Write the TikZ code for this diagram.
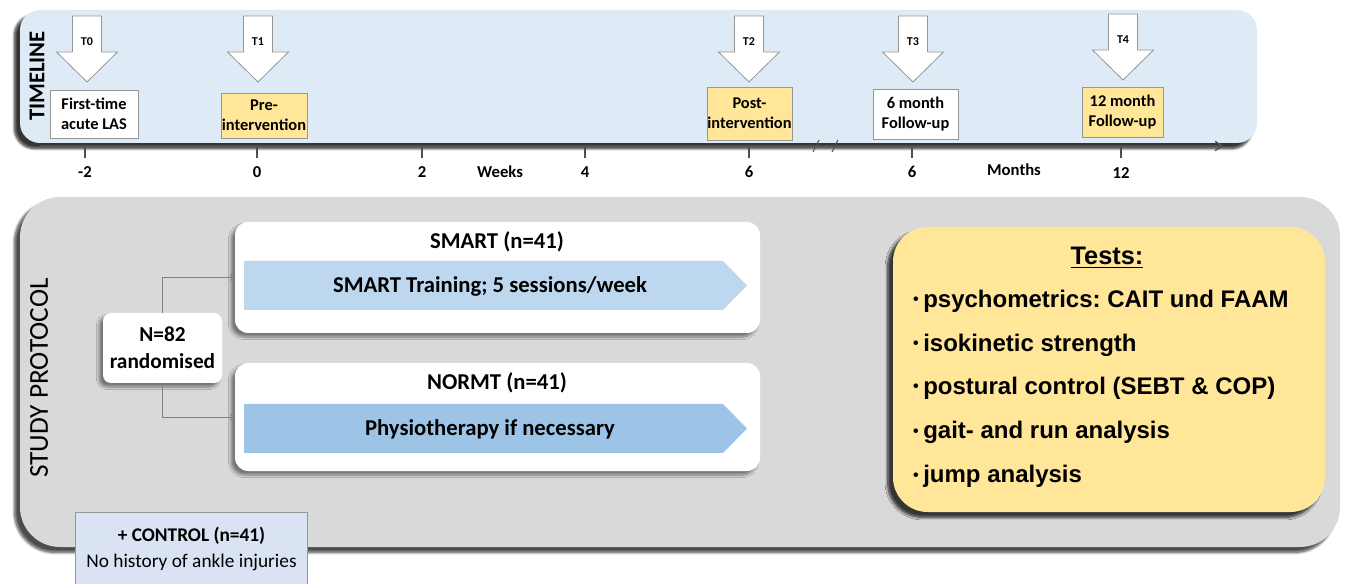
\documentclass[tikz,border=0pt]{standalone}
\usepackage{fontspec}
\setmainfont{Carlito}
\newfontfamily\arialfont{Liberation Sans}
\usetikzlibrary{shadows,shadows.blur,arrows.meta}
\frenchspacing
\definecolor{tlblue}{RGB}{222,234,246}
\definecolor{panelgray}{RGB}{217,217,217}
\definecolor{tyellow}{RGB}{255,230,153}
\definecolor{arrblueA}{RGB}{189,215,238}
\definecolor{arrblueB}{RGB}{157,195,230}
\definecolor{ctlblue}{RGB}{218,227,243}
\definecolor{edgegray}{RGB}{150,150,150}
\definecolor{axisgray}{RGB}{80,80,80}
\begin{document}
\begin{tikzpicture}[x=0.75pt,y=-0.75pt,
  softshadow/.style={blur shadow={shadow xshift=-3pt,shadow yshift=-3pt,shadow opacity=45,shadow blur steps=8}},
  panel/.style={inner sep=0pt,softshadow},
  tbox/.style={draw=edgegray,line width=0.6pt,align=center,inner sep=0pt,font=\bfseries\fontsize{12.3}{15}\selectfont},
  tarrow/.style={draw=edgegray,fill=white,line width=0.6pt,line join=miter},
  tlabel/.style={font=\bfseries\fontsize{9}{10}\selectfont,inner sep=0pt},
  axlabel/.style={font=\bfseries\fontsize{12.5}{14}\selectfont,inner sep=0pt},
  axisline/.style={draw=axisgray,line width=1pt},
  tick/.style={draw=axisgray,line width=0.8pt},
  grouppanel/.style={panel,fill=white,rounded corners=10pt},
  grouptitle/.style={font=\bfseries\fontsize{17}{19}\selectfont,inner sep=0pt},
  arrowtext/.style={font=\bfseries\fontsize{17}{19}\selectfont,inner sep=0pt},
  conn/.style={draw=gray,line width=0.6pt,-{To[length=3.5pt,width=5pt]}},
  testitem/.style={font=\arialfont\bfseries\fontsize{18}{20}\selectfont,inner sep=0pt,anchor=base west},
  testbullet/.style={font=\arialfont\bfseries\fontsize{12}{14}\selectfont,inner sep=0pt,anchor=base},
]
\useasboundingbox (0,0) rectangle (1346,584);

% ---------------- timeline panel ----------------
\node[panel,fill=tlblue,rounded corners=15pt,minimum width=927.75pt,minimum height=99.75pt,
  blur shadow={shadow xshift=-4pt,shadow yshift=-4pt,shadow opacity=55,shadow blur steps=8}] (tlpanel) at (638.5,76.5) {};
\node[rotate=90,font=\bfseries\fontsize{17}{18}\selectfont,inner sep=0pt] (tltitle) at (37,76) {TIMELINE};

% axis
\coordinate (axL) at (40,146);
\coordinate (axR) at (1223,146);
\draw[axisline,-{Straight Barb[length=5pt,width=7pt]}] (axL) -- (axR);
\foreach \x in {85,257,422,585,749,912,1121} \draw[tick] (\x,146) -- (\x,158);
\draw[tick] (813,152) -- (819,140);
\draw[tick] (832,152) -- (838,140);

\node[axlabel] (lm2) at (85,172) {-2};
\node[axlabel] (l0) at (257,172) {0};
\node[axlabel] (l2) at (422,172) {2};
\node[axlabel] (lweeks) at (500,172) {Weeks};
\node[axlabel] (l4) at (585,172) {4};
\node[axlabel] (l6) at (749,172) {6};
\node[axlabel] (l6m) at (912,172) {6};
\node[axlabel] (lmonths) at (1014,170) {Months};
\node[axlabel] (l12) at (1121,173) {12};

% block arrows
\foreach \cx/\ty/\lab/\nm in {87/16/T0/t0,258/16/T1/t1,749/16/T2/t2,913/16/T3/t3,1123/14/T4/t4}{
  \draw[tarrow] (\cx-14.5,\ty) -- (\cx+14.5,\ty) -- (\cx+14.5,\ty+36) -- (\cx+30.5,\ty+36)
     -- (\cx,\ty+66) -- (\cx-30.5,\ty+36) -- (\cx-14.5,\ty+36) -- cycle;
  \node[tlabel] (\nm) at (\cx,\ty+26) {\lab};
}

% timeline boxes
\node[tbox,fill=white,minimum width=66pt,minimum height=36pt] (b0) at (94,114) {First-time\\acute LAS};
\node[tbox,fill=tyellow,minimum width=64.5pt,minimum height=33.75pt] (b1) at (264,115.5) {Pre-\\intervention};
\node[tbox,fill=tyellow,minimum width=63.75pt,minimum height=39.75pt] (b2) at (749.5,113.5) {Post-\\intervention};
\node[tbox,fill=white,minimum width=63.75pt,minimum height=37.5pt] (b3) at (915.5,114) {6 month\\Follow-up};
\node[tbox,fill=tyellow,minimum width=60.75pt,minimum height=37.5pt] (b4) at (1122.5,112) {12 month\\Follow-up};

% ---------------- study protocol panel ----------------
\node[panel,fill=panelgray,rounded corners=30pt,minimum width=990pt,minimum height=262.5pt,
  blur shadow={shadow xshift=-4pt,shadow yshift=-4pt,shadow opacity=45,shadow blur steps=8}] (study) at (680,372) {};
\node[rotate=90,font=\fontsize{20.5}{22}\selectfont,inner sep=0pt] (sptitle) at (39,378) {STUDY PROTOCOL};

% randomisation box
\node[panel,fill=white,rounded corners=6pt,minimum width=89.25pt,minimum height=52.5pt,align=center,
  font=\bfseries\fontsize{16}{20}\selectfont] (nbox) at (162.5,348) {N=82\\randomised};

% group panels
\node[grouppanel,minimum width=393.75pt,minimum height=83.25pt] (smart) at (497.5,277.5) {};
\node[grouppanel,minimum width=393.75pt,minimum height=81pt] (normt) at (497.5,417) {};

\node[grouptitle] (smarttitle) at (497,242) {SMART (n=41)};
\node[grouptitle] (normttitle) at (497,383) {NORMT (n=41)};

\fill[arrblueA] (244,261) -- (723,261) -- (747,285.5) -- (723,310) -- (244,310) -- cycle;
\node[arrowtext] (smarttext) at (490,286) {SMART Training; 5 sessions/week};
\fill[arrblueB] (244,404) -- (723,404) -- (747,428.5) -- (723,453) -- (244,453) -- cycle;
\node[arrowtext] (normttext) at (490,429) {Physiotherapy if necessary};

\draw[conn] (nbox.north) |- (smart.west);
\draw[conn] (nbox.south) |- (normt.west);

% tests box
\node[panel,fill=tyellow,rounded corners=26pt,minimum width=324pt,minimum height=213.75pt,
  blur shadow={shadow xshift=-4pt,shadow yshift=-4pt,shadow opacity=50,shadow blur steps=8}] (tests) at (1109,369.5) {};
\node[font=\arialfont\bfseries\fontsize{19}{20}\selectfont,inner sep=0pt,anchor=base] (teststitle) at (1107,265) {\underline{Tests:}};
\foreach \yb/\txt/\nm in {308/{psychometrics: CAIT und FAAM}/i1,352/{isokinetic strength}/i2,395/{postural control (SEBT \& COP)}/i3,439/{gait- and run analysis}/i4,483/{jump analysis}/i5}{
  \node[testbullet] (\nm b) at (916,\yb-3) {\textbullet};
  \node[testitem] (\nm) at (923,\yb) {\txt};
}

% control box
\node[fill=ctlblue,inner sep=0pt,minimum width=173.25pt,minimum height=54pt,align=center,
  font=\fontsize{14.5}{20}\selectfont] (control) at (191.5,549) {\textbf{+ CONTROL (n=41)}\\No history of ankle injuries};
\draw[draw=edgegray,line width=0.6pt] (control.south west) -- (control.north west) -- (control.north east) -- (control.south east);
\end{tikzpicture}
\end{document}
